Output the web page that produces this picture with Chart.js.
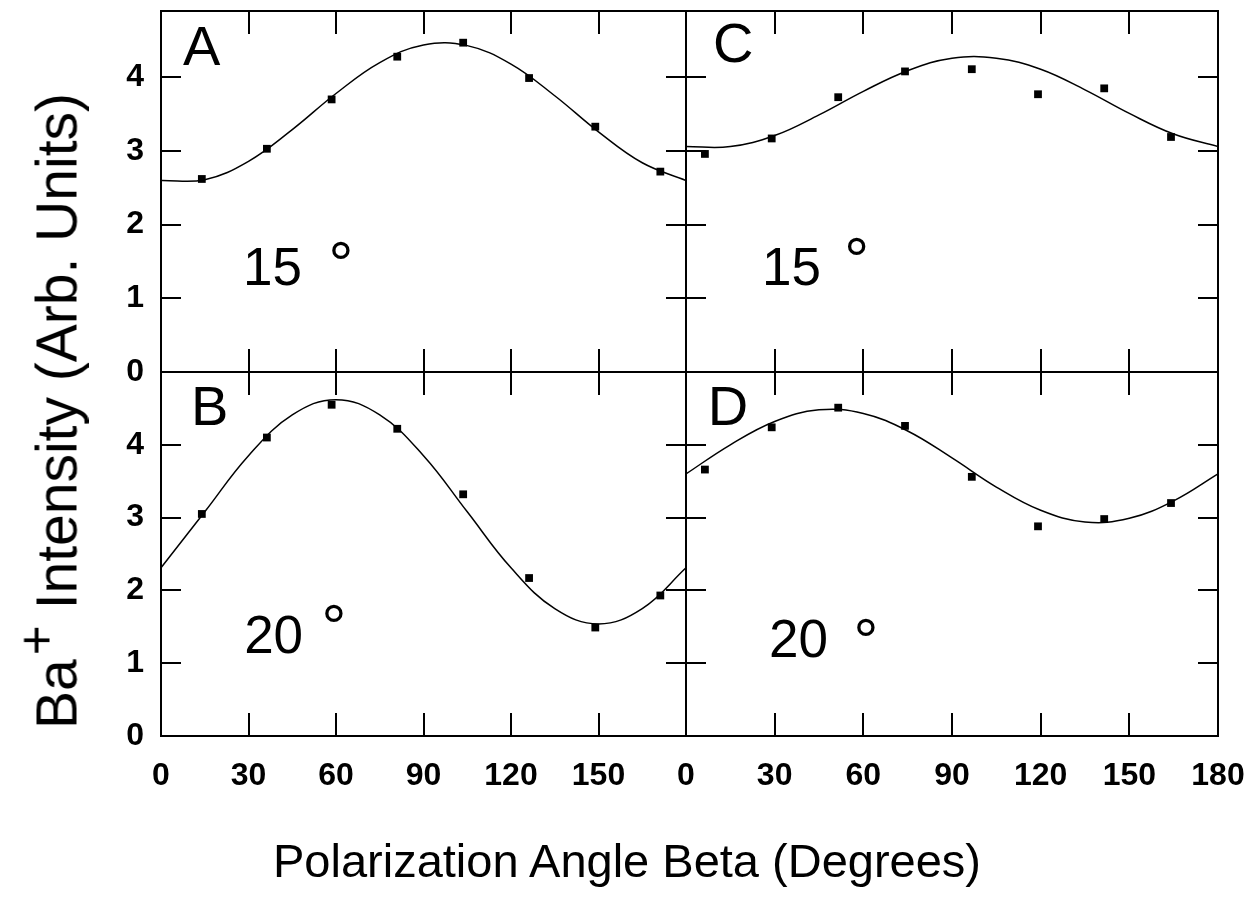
<!DOCTYPE html>
<html>
<head>
<meta charset="utf-8">
<script src="https://cdn.jsdelivr.net/npm/chart.js@4.4.0/dist/chart.umd.min.js"></script>
<style>
  html, body { margin: 0; padding: 0; background: #fff; }
  body { width: 1248px; height: 914px; position: relative; overflow: hidden; font-family: "Liberation Sans", Arial, sans-serif; }
  canvas { position: absolute; }
  .title { position: absolute; white-space: nowrap; color: #000; line-height: 1; transform: translate(-50%, -50%); }
  #ytitle { left: 57px; top: 411px; font-size: 57px; transform: translate(-50%, -50%) rotate(-90deg); }
  #ytitle span { position: relative; top: -0.42em; font-size: 0.9em; margin-left: 0.08em; }
  #xtitle { left: 627px; top: 860px; font-size: 47px; }
</style>
</head>
<body>
<canvas id="panelA" width="700" height="400" style="left:0;top:0"></canvas>
<canvas id="panelC" width="576" height="400" style="left:672px;top:0"></canvas>
<canvas id="panelB" width="700" height="556" style="left:0;top:358px"></canvas>
<canvas id="panelD" width="576" height="556" style="left:672px;top:358px"></canvas>
<div class="title" id="ytitle">Ba<span>+</span> Intensity (Arb. Units)</div>
<div class="title" id="xtitle">Polarization Angle Beta (Degrees)</div>
<script>
// measured angles of the data points (degrees)
const leftAngles = [14, 36.3, 58.5, 81, 103.6, 126.2, 148.9, 171.2];
const rightAngles = [6.4, 29, 51.5, 74.1, 96.7, 119.1, 141.5, 164.1];

// Ba+ intensity at those angles
const pointsA = [2.62, 3.03, 3.70, 4.28, 4.47, 3.99, 3.33, 2.72];
const pointsB = [3.05, 4.10, 4.55, 4.22, 3.32, 2.17, 1.49, 1.93];
const pointsC = [2.96, 3.17, 3.73, 4.08, 4.11, 3.77, 3.85, 3.19];
const pointsD = [3.66, 4.24, 4.51, 4.26, 3.56, 2.88, 2.98, 3.20];

// fitted curves, read every 15 degrees
const fitAngles = [0, 15, 30, 45, 60, 75, 90, 105, 120, 135, 150, 165, 180];
const fitA = [2.60, 2.61, 2.86, 3.29, 3.78, 4.20, 4.44, 4.43, 4.18, 3.75, 3.26, 2.84, 2.60];
const fitB = [2.31, 3.08, 3.85, 4.41, 4.62, 4.41, 3.85, 3.08, 2.31, 1.75, 1.54, 1.75, 2.31];
const fitC = [3.06, 3.06, 3.21, 3.49, 3.81, 4.09, 4.26, 4.26, 4.11, 3.83, 3.51, 3.23, 3.06];
const fitD = [3.60, 4.00, 4.32, 4.48, 4.43, 4.19, 3.82, 3.42, 3.10, 2.94, 2.99, 3.23, 3.60];

const xStep = 30;
const yStep = 1;
const yLastLabel = 4;

const FONT = "Liberation Sans";

// box with inward tick marks on all four sides
const framePlugin = {
  id: 'frame',
  afterDatasetsDraw(chart) {
    const { ctx, chartArea: a, scales: { x, y } } = chart;
    ctx.save();
    ctx.strokeStyle = '#000';
    ctx.lineWidth = 2;
    ctx.strokeRect(a.left, a.top, a.right - a.left, a.bottom - a.top);
    ctx.beginPath();
    x.ticks.forEach(t => {
      if (t.value <= x.min || t.value >= x.max) return;
      const px = Math.round(x.getPixelForValue(t.value));
      ctx.moveTo(px, a.bottom); ctx.lineTo(px, a.bottom - 23);
      ctx.moveTo(px, a.top); ctx.lineTo(px, a.top + 23);
    });
    y.ticks.forEach(t => {
      if (t.value <= y.min || t.value >= y.max) return;
      const py = Math.round(y.getPixelForValue(t.value));
      ctx.moveTo(a.left, py); ctx.lineTo(a.left + 20, py);
      ctx.moveTo(a.right, py); ctx.lineTo(a.right - 20, py);
    });
    ctx.stroke();
    ctx.restore();
  }
};

// panel letter and angle note
const notePlugin = {
  id: 'note',
  afterDraw(chart, args, o) {
    const { ctx, scales: { x, y } } = chart;
    ctx.save();
    ctx.fillStyle = '#000';
    ctx.textAlign = 'left';
    ctx.textBaseline = 'alphabetic';
    ctx.font = `56px "${FONT}"`;
    ctx.fillText(o.letter, x.getPixelForValue(o.letterAt[0]), y.getPixelForValue(o.letterAt[1]));
    ctx.font = `53px "${FONT}"`;
    ctx.fillText(o.angle, x.getPixelForValue(o.angleAt[0]), y.getPixelForValue(o.angleAt[1]));
    // degree sign, scaled so the ring is ~18px wide
    ctx.font = `100px "${FONT}"`;
    let m = ctx.measureText('°');
    const size = 18 / (m.actualBoundingBoxRight + m.actualBoundingBoxLeft) * 100;
    ctx.font = `${size}px "${FONT}"`;
    m = ctx.measureText('°');
    const cx = x.getPixelForValue(o.ringAt[0]);
    const cy = y.getPixelForValue(o.ringAt[1]);
    ctx.fillText('°', cx - (m.actualBoundingBoxRight - m.actualBoundingBoxLeft) / 2,
                      cy - (m.actualBoundingBoxDescent - m.actualBoundingBoxAscent) / 2);
    ctx.restore();
  }
};

function makePanel(id, angles, values, fit, cfg) {
  const tickFont = { family: FONT, size: 32, weight: 'bold' };
  return new Chart(document.getElementById(id), {
    type: 'scatter',
    data: {
      datasets: [
        {
          data: fitAngles.map((a, i) => ({ x: a, y: fit[i] })),
          showLine: true,
          borderColor: '#000',
          borderWidth: 1.5,
          pointRadius: 0,
          tension: 0.4,
          fill: false
        },
        {
          data: angles.map((a, i) => ({ x: a, y: values[i] })),
          showLine: false,
          pointStyle: 'rect',
          pointRadius: 5.5,
          backgroundColor: '#000',
          borderColor: '#000',
          borderWidth: 0
        }
      ]
    },
    options: {
      responsive: false,
      animation: false,
      layout: { padding: cfg.pad, autoPadding: false },
      plugins: {
        legend: { display: false },
        tooltip: { enabled: false },
        note: cfg.note
      },
      scales: {
        x: {
          type: 'linear',
          min: 0,
          max: 180,
          grid: { display: false, drawTicks: false },
          border: { display: false },
          ticks: {
            display: cfg.bottom,
            stepSize: xStep,
            autoSkip: false,
            maxRotation: 0,
            padding: 21,
            color: '#000',
            font: tickFont,
            callback: v => (cfg.left && v === 180 ? '' : v)
          },
          afterFit: s => { s.height = cfg.bottom ? 60 : 0; s.paddingLeft = 0; s.paddingRight = 0; }
        },
        y: {
          min: 0,
          max: cfg.yMax,
          grid: { display: false, drawTicks: false },
          border: { display: false },
          ticks: {
            display: cfg.left,
            stepSize: yStep,
            includeBounds: false,
            padding: 17,
            color: '#000',
            font: tickFont,
            callback: v => (v > yLastLabel ? '' : v)
          },
          afterFit: s => { s.width = cfg.left ? 161 : 0; s.paddingTop = 0; s.paddingBottom = 0; }
        }
      }
    },
    plugins: [framePlugin, notePlugin]
  });
}

makePanel('panelA', leftAngles, pointsA, fitA, {
  left: true, bottom: false, yMax: 4.9,
  pad: { left: 0, top: 11, right: 14, bottom: 28 },
  note: { letter: 'A', letterAt: [7.5, 4.17], angle: '15', angleAt: [28.1, 1.18], ringAt: [61.7, 1.66] }
});
makePanel('panelC', rightAngles, pointsC, fitC, {
  left: false, bottom: false, yMax: 4.9,
  pad: { left: 14, top: 11, right: 30, bottom: 28 },
  note: { letter: 'C', letterAt: [9.1, 4.21], angle: '15', angleAt: [25.7, 1.18], ringAt: [57.8, 1.71] }
});
makePanel('panelB', leftAngles, pointsB, fitB, {
  left: true, bottom: true, yMax: 5,
  pad: { left: 0, top: 14, right: 14, bottom: 118 },
  note: { letter: 'B', letterAt: [10.3, 4.27], angle: '20', angleAt: [28.5, 1.14], ringAt: [59.3, 1.69] }
});
makePanel('panelD', rightAngles, pointsD, fitD, {
  left: false, bottom: true, yMax: 5,
  pad: { left: 14, top: 14, right: 30, bottom: 118 },
  note: { letter: 'D', letterAt: [7.4, 4.27], angle: '20', angleAt: [28.1, 1.09], ringAt: [60.9, 1.50] }
});
</script>
</body>
</html>
